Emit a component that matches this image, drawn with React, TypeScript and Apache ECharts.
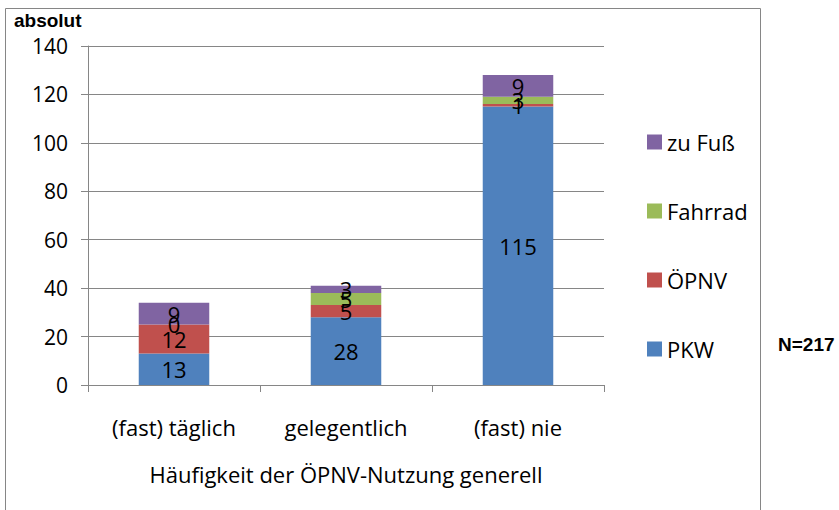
import React, { useEffect, useRef } from "react";
import * as echarts from "echarts";

const categories = ["(fast) täglich", "gelegentlich", "(fast) nie"];
const pkw = [13, 28, 115];
const oepnv = [12, 5, 1];
const fahrrad = [0, 5, 3];
const zuFuss = [9, 3, 9];
const seriesNames = ["PKW", "ÖPNV", "Fahrrad", "zu Fuß"];
const colors = ["#4F81BD", "#C0504D", "#9BBB59", "#8064A2"];
const yTicks = { min: 0, max: 140, interval: 20 };

const FONT = "'Open Sans', Lato, sans-serif";

export default function App() {
  const ref = useRef<HTMLDivElement>(null);
  useEffect(() => {
    if (!ref.current) return;
    const chart = echarts.init(ref.current, undefined, { renderer: "svg" });
    const values = [pkw, oepnv, fahrrad, zuFuss];
    chart.setOption({
      animation: false,
      textStyle: { fontFamily: FONT },
      graphic: [
        {
          type: "rect",
          shape: { x: 5.5, y: 8.5, width: 755, height: 520 },
          style: { fill: "none", stroke: "#868686", lineWidth: 1 },
          silent: true,
        },
        {
          type: "text",
          left: 14,
          top: 11,
          style: { text: "absolut", font: "bold 19px Arial, 'Liberation Sans', sans-serif", fill: "#000" },
        },
        {
          type: "text",
          left: 778,
          top: 335,
          style: { text: "N=217", font: "bold 19px Arial, 'Liberation Sans', sans-serif", fill: "#000" },
        },
      ],
      grid: { left: 88, right: 235, top: 46, bottom: 125, containLabel: false },
      legend: {
        orient: "vertical",
        left: 642,
        top: 126,
        itemWidth: 15,
        itemHeight: 15,
        itemGap: 47,
        icon: "rect",
        data: [...seriesNames].reverse(),
        textStyle: { fontSize: 22, color: "#000", fontFamily: FONT },
      },
      xAxis: {
        type: "category",
        data: categories,
        axisLine: { lineStyle: { color: "#868686" } },
        axisTick: { show: true, length: 7, lineStyle: { color: "#868686" } },
        axisLabel: { fontSize: 22, color: "#000", margin: 31, fontFamily: FONT },
        name: "Häufigkeit der ÖPNV-Nutzung generell",
        nameLocation: "middle",
        nameGap: 78,
        nameTextStyle: { fontSize: 22, color: "#000", fontFamily: FONT },
      },
      yAxis: {
        type: "value",
        min: yTicks.min,
        max: yTicks.max,
        interval: yTicks.interval,
        axisLine: { show: true, lineStyle: { color: "#868686" } },
        axisTick: { show: true, length: 7, lineStyle: { color: "#868686" } },
        axisLabel: { fontSize: 21, color: "#000", margin: 20, fontFamily: FONT },
        splitLine: { show: true, lineStyle: { color: "#868686" } },
      },
      series: seriesNames.map((name, i) => ({
        name,
        type: "bar",
        stack: "total",
        barWidth: "41%",
        data: values[i],
        itemStyle: { color: colors[i] },
        label: {
          show: true,
          position: "inside",
          color: "#000",
          fontSize: 22,
          fontFamily: FONT,
        },
      })),
    });
    return () => chart.dispose();
  }, []);
  return <div ref={ref} style={{ width: 839, height: 510, position: "absolute", left: 0, top: 0, background: "#fff" }} />;
}
